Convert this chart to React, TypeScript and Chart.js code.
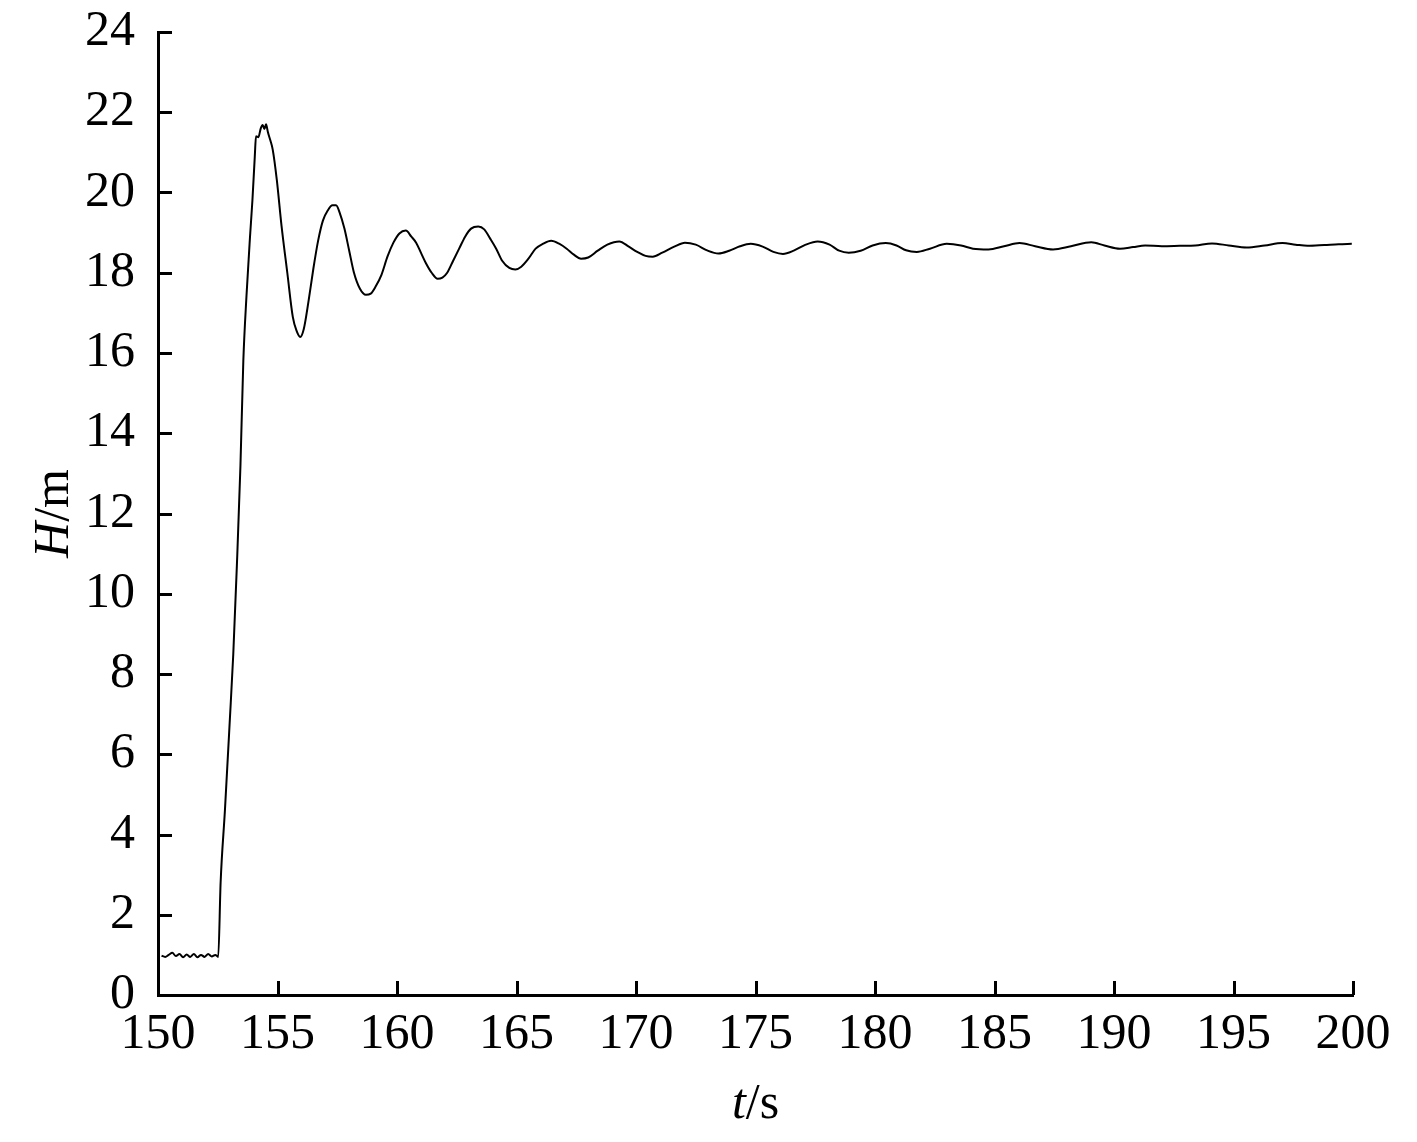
import React, { useEffect, useRef } from "react";
import { Chart, registerables } from "chart.js";

Chart.register(...registerables);

// time (s)
const timeValues: number[] = [
  150.15, 150.3, 150.45, 150.6, 150.75, 150.9, 151.05, 151.2, 151.35, 151.5, 151.65, 151.8, 151.95, 152.1, 152.25, 152.4, 152.52,
  152.62, 152.8, 153.0, 153.15, 153.3, 153.45, 153.57, 153.7, 153.85, 153.95, 154.05, 154.1, 154.2, 154.3, 154.38, 154.45, 154.52, 154.6, 154.7, 154.8, 154.97,
  155.17, 155.41, 155.64, 155.8, 155.95, 156.1, 156.3, 156.5, 156.7, 156.9, 157.1, 157.3, 157.45, 157.6, 157.8, 158.0, 158.2, 158.45, 158.7, 158.9,
  159.1, 159.35, 159.6, 159.85, 160.1, 160.37, 160.6, 160.8, 161.0, 161.2, 161.45, 161.7, 161.9, 162.1, 162.35, 162.6, 162.85, 163.1, 163.4, 163.65,
  163.9, 164.15, 164.4, 164.7, 164.95, 165.2, 165.5, 165.8, 166.1, 166.45, 166.8, 167.1, 167.4, 167.7, 168.0, 168.4, 168.8, 169.3, 169.7, 170.05,
  170.4, 170.7, 171.1, 171.6, 172.05, 172.5, 173.0, 173.45, 173.9, 174.35, 174.8, 175.3, 175.75, 176.15, 176.6, 177.1, 177.6, 178.1, 178.5, 178.9,
  179.4, 179.9, 180.45, 180.9, 181.3, 181.75, 182.3, 183.0, 183.6, 184.1, 184.75, 185.4, 186.05, 186.7, 187.45, 188.2, 189.05, 189.6, 190.25, 190.8,
  191.3, 192.0, 192.75, 193.4, 194.1, 194.8, 195.55, 196.3, 197.05, 197.6, 198.1, 198.8, 199.4, 199.95,
];

// head H (m)
const headValues: number[] = [
  0.98, 0.95, 1.0, 1.05, 0.97, 1.02, 0.94, 1.01, 0.95, 1.02, 0.94, 1.0, 0.95, 1.02, 0.96, 1.0, 0.95,
  2.8, 4.6, 6.8, 8.5, 10.7, 13.2, 15.8, 17.4, 18.9, 19.8, 20.9, 21.4, 21.38, 21.6, 21.68, 21.58, 21.7, 21.5, 21.3, 21.07, 20.32,
  19.16, 18.0, 16.9, 16.55, 16.4, 16.6, 17.3, 18.1, 18.8, 19.3, 19.55, 19.68, 19.68, 19.5, 19.1, 18.55, 18.0, 17.6, 17.45, 17.48,
  17.65, 17.95, 18.4, 18.75, 18.98, 19.05, 18.9, 18.75, 18.5, 18.25, 18.0, 17.85, 17.88, 18.0, 18.3, 18.6, 18.9, 19.1, 19.15, 19.08,
  18.85, 18.6, 18.3, 18.12, 18.08, 18.15, 18.35, 18.6, 18.72, 18.8, 18.72, 18.6, 18.45, 18.35, 18.38, 18.55, 18.7, 18.78, 18.65, 18.52,
  18.42, 18.4, 18.5, 18.65, 18.75, 18.7, 18.55, 18.48, 18.55, 18.66, 18.72, 18.65, 18.52, 18.47, 18.55, 18.7, 18.78, 18.7, 18.55, 18.5,
  18.55, 18.68, 18.74, 18.68, 18.56, 18.52, 18.6, 18.72, 18.68, 18.6, 18.58, 18.66, 18.74, 18.66, 18.58, 18.66, 18.76, 18.68, 18.6, 18.64,
  18.68, 18.66, 18.67, 18.68, 18.73, 18.68, 18.63, 18.68, 18.74, 18.7, 18.67, 18.69, 18.71, 18.72,
];

const xTickValues: number[] = [150, 155, 160, 165, 170, 175, 180, 185, 190, 195, 200];
const yTickValues: number[] = [0, 2, 4, 6, 8, 10, 12, 14, 16, 18, 20, 22, 24];

const xTitleItalic = "t";
const xTitleRest = "/s";
const yTitleItalic = "H";
const yTitleRest = "/m";

const FONT_FAMILY = "'Liberation Serif', 'Times New Roman', serif";
const FONT_SIZE = 50;

const innerTicksPlugin = {
  id: "innerTicks",
  afterDraw(chart: any) {
    const { ctx, chartArea, scales } = chart;
    const x = scales.x;
    const y = scales.y;
    const len = 14;
    ctx.save();
    ctx.strokeStyle = "#000";
    ctx.lineWidth = 3;
    ctx.beginPath();
    for (const v of yTickValues) {
      const py = Math.round(y.getPixelForValue(v)) + 0.5;
      ctx.moveTo(chartArea.left, py);
      ctx.lineTo(chartArea.left + len, py);
    }
    for (const v of xTickValues) {
      const px = Math.round(x.getPixelForValue(v)) + 0.5;
      ctx.moveTo(px, chartArea.bottom);
      ctx.lineTo(px, chartArea.bottom - len);
    }
    ctx.stroke();

    // axis titles (mixed italic / regular)
    ctx.fillStyle = "#000";
    ctx.textBaseline = "middle";
    ctx.textAlign = "left";
    const italicFont = `italic ${FONT_SIZE}px ${FONT_FAMILY}`;
    const normalFont = `${FONT_SIZE}px ${FONT_FAMILY}`;

    // x title
    ctx.font = italicFont;
    const wxi = ctx.measureText(xTitleItalic).width;
    ctx.font = normalFont;
    const wxr = ctx.measureText(xTitleRest).width;
    const cx = (chartArea.left + chartArea.right) / 2;
    const xStart = cx - (wxi + wxr) / 2;
    const ty = 1105;
    ctx.font = italicFont;
    ctx.fillText(xTitleItalic, xStart, ty);
    ctx.font = normalFont;
    ctx.fillText(xTitleRest, xStart + wxi, ty);

    // y title (rotated)
    ctx.font = italicFont;
    const wyi = ctx.measureText(yTitleItalic).width;
    ctx.font = normalFont;
    const wyr = ctx.measureText(yTitleRest).width;
    const cy = (chartArea.top + chartArea.bottom) / 2;
    ctx.translate(55, cy);
    ctx.rotate(-Math.PI / 2);
    const yStart = -(wyi + wyr) / 2;
    ctx.font = italicFont;
    ctx.fillText(yTitleItalic, yStart, 0);
    ctx.font = normalFont;
    ctx.fillText(yTitleRest, yStart + wyi, 0);
    ctx.restore();
  },
};

export default function App() {
  const canvasRef = useRef<HTMLCanvasElement | null>(null);

  useEffect(() => {
    const canvas = canvasRef.current;
    if (!canvas) return;
    const data = timeValues.map((t, i) => ({ x: t, y: headValues[i] }));
    const chart = new Chart(canvas, {
      type: "line",
      data: {
        datasets: [
          {
            data,
            borderColor: "#000",
            borderWidth: 2,
            pointRadius: 0,
            cubicInterpolationMode: "monotone",
            fill: false,
          },
        ],
      },
      plugins: [innerTicksPlugin],
      options: {
        responsive: false,
        animation: false,
        events: [],
        layout: { padding: { top: 32, right: 64, left: 0, bottom: 0 } },
        plugins: {
          legend: { display: false },
          tooltip: { enabled: false },
          title: { display: false },
        },
        scales: {
          x: {
            type: "linear",
            min: 150,
            max: 200,
            afterFit: (s: any) => {
              s.height = 147;
              s.paddingLeft = 0;
              s.paddingRight = 0;
            },
            afterBuildTicks: (s: any) => {
              s.ticks = xTickValues.map((v) => ({ value: v }));
            },
            grid: { display: false, drawTicks: false },
            border: { display: true, color: "#000", width: 3 },
            ticks: {
              padding: 10,
              color: "#000",
              maxRotation: 0,
              autoSkip: false,
              font: { family: FONT_FAMILY, size: FONT_SIZE },
            },
          },
          y: {
            type: "linear",
            min: 0,
            max: 24,
            afterFit: (s: any) => {
              s.width = 158;
              s.paddingTop = 0;
              s.paddingBottom = 0;
            },
            afterBuildTicks: (s: any) => {
              s.ticks = yTickValues.map((v) => ({ value: v }));
            },
            grid: { display: false, drawTicks: false },
            border: { display: true, color: "#000", width: 3 },
            ticks: {
              padding: 23,
              color: "#000",
              autoSkip: false,
              font: { family: FONT_FAMILY, size: FONT_SIZE },
            },
          },
        },
      },
    });
    return () => chart.destroy();
  }, []);

  return (
    <div style={{ position: "absolute", left: 0, top: 0, width: 1417, height: 1142, background: "#fff" }}>
      <canvas ref={canvasRef} width={1417} height={1142} style={{ display: "block" }} />
    </div>
  );
}
